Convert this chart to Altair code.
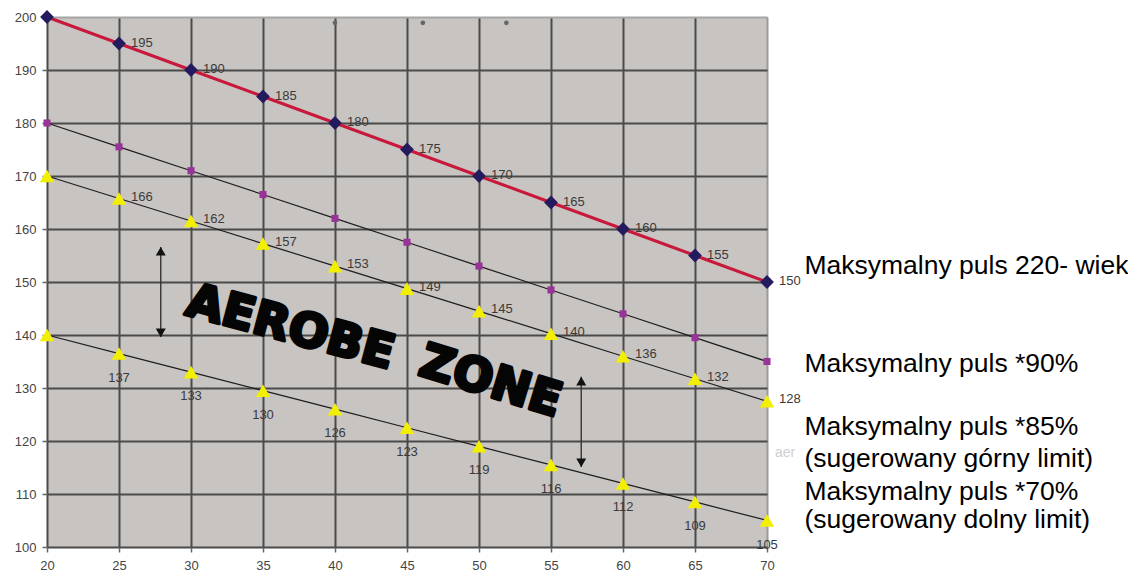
import altair as alt
import pandas as pd

# ---- data ----
ages = [20, 25, 30, 35, 40, 45, 50, 55, 60, 65, 70]
max_hr = [200, 195, 190, 185, 180, 175, 170, 165, 160, 155, 150]
hr_90 = [180, 175.5, 171, 166.5, 162, 157.5, 153, 148.5, 144, 139.5, 135]
hr_85 = [170, 165.75, 161.5, 157.25, 153, 148.75, 144.5, 140.25, 136, 131.75, 127.5]
hr_70 = [140, 136.5, 133, 129.5, 126, 122.5, 119, 115.5, 112, 108.5, 105]

lab_max = ["", "195", "190", "185", "180", "175", "170", "165", "160", "155", "150"]
lab_85 = ["", "166", "162", "157", "153", "149", "145", "140", "136", "132", "128"]
lab_70 = ["", "137", "133", "130", "126", "123", "119", "116", "112", "109", "105"]

x_ticks = [20, 25, 30, 35, 40, 45, 50, 55, 60, 65, 70]
y_ticks = [100, 110, 120, 130, 140, 150, 160, 170, 180, 190, 200]

legend_lines = [
    "Maksymalny puls 220- wiek",
    "Maksymalny puls *90%",
    "Maksymalny puls *85%",
    "(sugerowany górny limit)",
    "Maksymalny puls *70%",
    "(sugerowany dolny limit)",
]
legend_y = [151.5, 133.0, 121.1, 115.1, 108.9, 103.6]
legend_x = [72.6] * 6

zone_words = ["AEROBE", "ZONE"]
zone_x = [36.9, 50.8]
zone_y = [141.3, 131.1]
zone_angle = [15, 17]

arrow_x = [27.9, 57.1]
arrow_top = [156.6, 132.1]
arrow_bottom = [139.6, 115.1]
arrow_head_top = [155.8, 131.3]
arrow_head_bottom = [140.4, 115.9]

dots_x = [40, 46.1, 51.9]
dots_y = [198.9, 198.9, 198.9]

ghost_text = ["aer"]
ghost_x = [70.55]
ghost_y = [117.7]

# ---- scales / axes ----
FONT = "Liberation Sans"
xscale = alt.Scale(domain=[20, 70], nice=False, zero=False)
yscale = alt.Scale(domain=[100, 200], nice=False, zero=False)

x_axis = alt.Axis(
    values=x_ticks, title=None, grid=True, domain=False,
    gridColor={"condition": {"test": "datum.value == 70", "value": "#9a9a9a"}, "value": "#4a4a4a"},
    gridWidth=2, tickSize=5, tickColor="#666666", tickWidth=1.5,
    labelFont=FONT, labelFontSize=13, labelColor="#444444", labelPadding=7,
    labelFlush=False,
)
y_axis = alt.Axis(
    values=y_ticks, title=None, grid=True, domain=False,
    gridColor={"condition": {"test": "datum.value == 200", "value": "#a5a5a5"}, "value": "#4a4a4a"},
    gridWidth=2, tickSize=5, tickColor="#666666", tickWidth=1.5,
    labelFont=FONT, labelFontSize=13, labelColor="#444444", labelPadding=6,
    labelFlush=False,
)

X = alt.X("x:Q", scale=xscale, axis=x_axis)
Y = alt.Y("y:Q", scale=yscale, axis=y_axis)

df_max = pd.DataFrame({"x": ages, "y": max_hr, "t": lab_max})
df_90 = pd.DataFrame({"x": ages, "y": hr_90})
df_85 = pd.DataFrame({"x": ages, "y": hr_85, "t": lab_85})
df_70 = pd.DataFrame({"x": ages, "y": hr_70, "t": lab_70})
df_thin = pd.DataFrame({
    "x": ages * 3,
    "y": hr_90 + hr_85 + hr_70,
    "s": ["90"] * len(ages) + ["85"] * len(ages) + ["70"] * len(ages),
})
df_yellow = pd.concat([df_85, df_70])

thin_lines = alt.Chart(df_thin).mark_line(color="#1e1e1e", strokeWidth=1.2).encode(
    x=X, y=Y, detail="s:N")
purple = alt.Chart(df_90).mark_point(shape="square", filled=True, size=50,
                                     color="#993399", opacity=1).encode(x=X, y=Y)
yellow = alt.Chart(df_yellow).mark_point(shape="triangle-up", filled=True, size=210,
                                         color="#f2f000", opacity=1).encode(x=X, y=Y)
red_line = alt.Chart(df_max).mark_line(color="#c8193c", strokeWidth=3).encode(x=X, y=Y)
diamonds = alt.Chart(df_max).mark_point(shape="diamond", filled=True, size=190,
                                        color="#241a5e", opacity=1).encode(x=X, y=Y)

lab_style = dict(font=FONT, fontSize=13, color="#3a3a3a")
t_max = alt.Chart(df_max).mark_text(align="left", baseline="middle", dx=12, dy=-1,
                                    **lab_style).encode(x=X, y=Y, text="t:N")
t_85 = alt.Chart(df_85).mark_text(align="left", baseline="middle", dx=12, dy=-2,
                                  **lab_style).encode(x=X, y=Y, text="t:N")
t_70 = alt.Chart(df_70).mark_text(align="center", baseline="middle", dy=24,
                                  **lab_style).encode(x=X, y=Y, text="t:N")

df_zone = pd.DataFrame({"x": zone_x, "y": zone_y, "t": zone_words, "a": zone_angle})
zone = alt.Chart(df_zone).mark_text(font="DejaVu Sans", fontWeight="bold", fontSize=47,
                                    color="#050505", stroke="#050505", strokeWidth=3.5,
                                    strokeJoin="round", align="center",
                                    baseline="middle").encode(
    x=X, y=Y, text="t:N", angle=alt.Angle("a:Q", scale=None))

df_arrow = pd.DataFrame({"x": arrow_x, "y": arrow_top, "y2": arrow_bottom,
                         "ht": arrow_head_top, "hb": arrow_head_bottom})
shaft = alt.Chart(df_arrow).mark_rule(color="#333333", strokeWidth=1.4).encode(
    x=X, y=Y, y2="y2:Q")
head_up = alt.Chart(df_arrow).mark_point(shape="triangle-up", filled=True, size=100,
                                         color="#111111", opacity=1).encode(
    x=X, y=alt.Y("ht:Q", scale=yscale, axis=y_axis))
head_down = alt.Chart(df_arrow).mark_point(shape="triangle-down", filled=True, size=100,
                                           color="#111111", opacity=1).encode(
    x=X, y=alt.Y("hb:Q", scale=yscale, axis=y_axis))

df_dots = pd.DataFrame({"x": dots_x, "y": dots_y})
dots = alt.Chart(df_dots).mark_point(shape="circle", filled=True, size=22,
                                     color="#666666", opacity=1).encode(x=X, y=Y)

df_ghost = pd.DataFrame({"x": ghost_x, "y": ghost_y, "t": ghost_text})
ghost = alt.Chart(df_ghost).mark_text(align="left", baseline="middle", font=FONT,
                                      fontSize=14, color="#cfcfcf").encode(
    x=X, y=Y, text="t:N")

df_leg = pd.DataFrame({"x": legend_x, "y": legend_y, "t": legend_lines})
legend = alt.Chart(df_leg).mark_text(align="left", baseline="alphabetic", font=FONT,
                                     fontSize=26.5, color="#000000").encode(
    x=X, y=Y, text="t:N")

chart = alt.layer(
    thin_lines, purple, yellow, red_line, diamonds,
    t_max, t_85, t_70, zone, shaft, head_up, head_down, dots, ghost, legend,
).properties(
    width=720, height=530,
    autosize=alt.AutoSizeParams(type="none"),
    padding={"left": 39, "top": 9, "right": 361, "bottom": 24},
    background="#ffffff",
).configure_view(
    fill="#c8c4c1", stroke="#9a9a9a", strokeWidth=1,
)

chart.save("out.html", embed_options={"renderer": "svg", "actions": False})
